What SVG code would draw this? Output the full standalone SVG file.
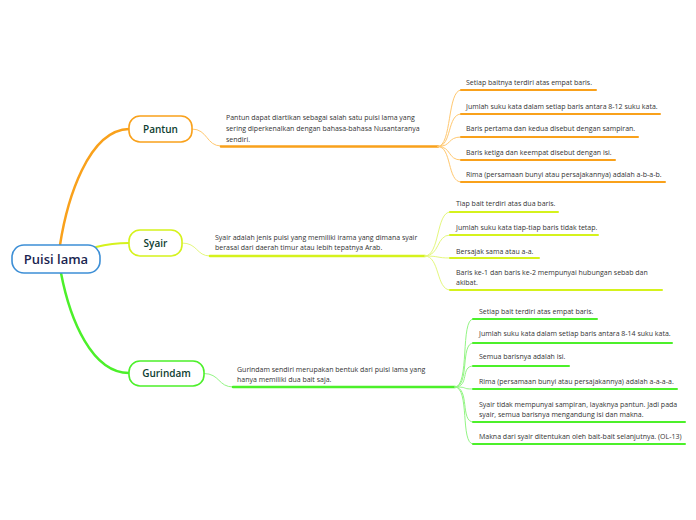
<svg xmlns="http://www.w3.org/2000/svg" width="696" height="520" viewBox="0 0 696 520">
<style>
.box{fill:#fff;stroke-width:1.6}
.root{font-family:"Open Sans","Noto Sans",sans-serif;font-size:13px;font-weight:600;fill:#1a2550;text-anchor:middle}
.lbl{font-family:"Open Sans","Noto Sans",sans-serif;font-size:10px;font-weight:600;fill:#0d3d30;text-anchor:middle}
.t{font-family:"Open Sans","Noto Sans",sans-serif;font-size:7px;fill:#333}
.o{stroke:#f9a11b}.ol{stroke:#ffc870}
.y{stroke:#d5f21c}.yl{stroke:#e4f77e}
.g{stroke:#4cf02a}.gl{stroke:#93f584}
.c path{fill:none;stroke-linecap:round}
.u{stroke-width:2}
.f{stroke-width:1}
</style>
<rect width="696" height="520" fill="#fff"/>
<g id="connectors" class="c">
<path class="o" stroke-width="2.5" d="M60,245 C67,200 88,130 129,129"/>
<path class="y" stroke-width="2" d="M96,247 C108,244 118,243 129,243"/>
<path class="g" stroke-width="2.5" d="M61,273 C70,320 92,373 129,373"/>
<path class="ol f" d="M192,129 C208,129 206,146 221,146"/>
<path class="o" stroke-width="2.5" d="M221,146.5 L438,146.5"/>
<path class="ol f" d="M438,146.5 C452,146.5 447,90 461,90"/>
<path class="ol f" d="M438,146.5 C452,146.5 447,114 461,114"/>
<path class="ol f" d="M438,146.5 C452,146.5 447,137 461,137"/>
<path class="ol f" d="M438,146.5 C452,146.5 447,160 461,160"/>
<path class="ol f" d="M438,146.5 C452,146.5 447,182 461,182"/>
<path class="o u" d="M461,90 L596,90"/>
<path class="o u" d="M461,114 L660,114"/>
<path class="o u" d="M461,137 L638,137"/>
<path class="o u" d="M461,160 L615,160"/>
<path class="o u" d="M461,182 L665,182"/>
<path class="yl f" d="M182,243 C198,243 196,256 210,256"/>
<path class="y" stroke-width="2.5" d="M210,256 L425,256"/>
<path class="yl f" d="M425,256 C440,256 436,212 450,212"/>
<path class="yl f" d="M425,256 C440,256 436,235 450,235"/>
<path class="yl f" d="M425,256 C440,256 436,258 450,258"/>
<path class="yl f" d="M425,256 C440,256 436,290 450,290"/>
<path class="y u" d="M450,212 L558,212"/>
<path class="y u" d="M450,235 L598,235"/>
<path class="y u" d="M450,258 L539,258"/>
<path class="y u" d="M450,290 L662,290"/>
<path class="gl f" d="M204,373.5 C220,373.5 218,387 233,387"/>
<path class="g" stroke-width="2.5" d="M233,387 L455,387"/>
<path class="gl f" d="M455,387 C470,387 460,319 473,319"/>
<path class="gl f" d="M455,387 C470,387 460,343 473,343"/>
<path class="gl f" d="M455,387 C470,387 460,366 473,366"/>
<path class="gl f" d="M455,387 C470,387 460,389 473,389"/>
<path class="gl f" d="M455,387 C470,387 460,422 473,422"/>
<path class="gl f" d="M455,387 C470,387 460,444 473,444"/>
<path class="g u" d="M473,319 L597,319"/>
<path class="g u" d="M473,343 L672,343"/>
<path class="g u" d="M473,366 L569,366"/>
<path class="g u" d="M473,389 L677,389"/>
<path class="g u" d="M473,422 L685,422"/>
<path class="g u" d="M473,444 L685,444"/>
</g>
<g id="root">
<rect class="box" x="12" y="245" width="88" height="28" rx="12" stroke="#3d8fd6"/>
<text class="root" x="56" y="263.5">Puisi lama</text>
</g>
<g id="pantun">
<rect class="box" x="129" y="116" width="63" height="26" rx="11" stroke="#f9a11b"/>
<text class="lbl" x="160.5" y="132.5">Pantun</text>
</g>
<g id="pantun-desc">
<text class="t" x="226" y="120">Pantun dapat diartikan sebagai salah satu puisi lama yang</text>
<text class="t" x="226" y="131">sering diperkenalkan dengan bahasa-bahasa Nusantaranya</text>
<text class="t" x="226" y="142">sendiri.</text>
</g>
<g id="pantun-1"><text class="t" x="466" y="85">Setiap baitnya terdiri atas empat baris.</text></g>
<g id="pantun-2"><text class="t" x="466" y="108.5">Jumlah suku kata dalam setiap baris antara 8-12 suku kata.</text></g>
<g id="pantun-3"><text class="t" x="466" y="131">Baris pertama dan kedua disebut dengan sampiran.</text></g>
<g id="pantun-4"><text class="t" x="466" y="154.5">Baris ketiga dan keempat disebut dengan isi.</text></g>
<g id="pantun-5"><text class="t" x="466" y="177">Rima (persamaan bunyi atau persajakannya) adalah a-b-a-b.</text></g>
<g id="syair">
<rect class="box" x="129" y="230" width="53" height="26" rx="11" stroke="#d5f21c"/>
<text class="lbl" x="155.5" y="246.5">Syair</text>
</g>
<g id="syair-desc">
<text class="t" x="215" y="240">Syair adalah jenis puisi yang memiliki irama yang dimana syair</text>
<text class="t" x="215" y="250">berasal dari daerah timur atau lebih tepatnya Arab.</text>
</g>
<g id="syair-1"><text class="t" x="456" y="206">Tiap bait terdiri atas dua baris.</text></g>
<g id="syair-2"><text class="t" x="456" y="230">Jumlah suku kata tiap-tiap baris tidak tetap.</text></g>
<g id="syair-3"><text class="t" x="456" y="253.5">Bersajak sama atau a-a.</text></g>
<g id="syair-4">
<text class="t" x="456" y="275">Baris ke-1 dan baris ke-2 mempunyai hubungan sebab dan</text>
<text class="t" x="456" y="285">akibat.</text>
</g>
<g id="gurindam">
<rect class="box" x="129" y="361" width="75" height="25" rx="11" stroke="#4cf02a"/>
<text class="lbl" x="166.5" y="377">Gurindam</text>
</g>
<g id="gurindam-desc">
<text class="t" x="237" y="372">Gurindam sendiri merupakan bentuk dari puisi lama yang</text>
<text class="t" x="237" y="382">hanya memiliki dua bait saja.</text>
</g>
<g id="gurindam-1"><text class="t" x="479" y="313.5">Setiap bait terdiri atas empat baris.</text></g>
<g id="gurindam-2"><text class="t" x="479" y="336">Jumlah suku kata dalam setiap baris antara 8-14 suku kata.</text></g>
<g id="gurindam-3"><text class="t" x="479" y="358.5">Semua barisnya adalah isi.</text></g>
<g id="gurindam-4"><text class="t" x="479" y="383.5">Rima (persamaan bunyi atau persajakannya) adalah a-a-a-a.</text></g>
<g id="gurindam-5">
<text class="t" x="479" y="406.5">Syair tidak mempunyai sampiran, layaknya pantun. Jadi pada</text>
<text class="t" x="479" y="416.5">syair, semua barisnya mengandung isi dan makna.</text>
</g>
<g id="gurindam-6"><text class="t" x="479" y="438.5">Makna dari syair ditentukan oleh bait-bait selanjutnya. (OL-13)</text></g>
</svg>
